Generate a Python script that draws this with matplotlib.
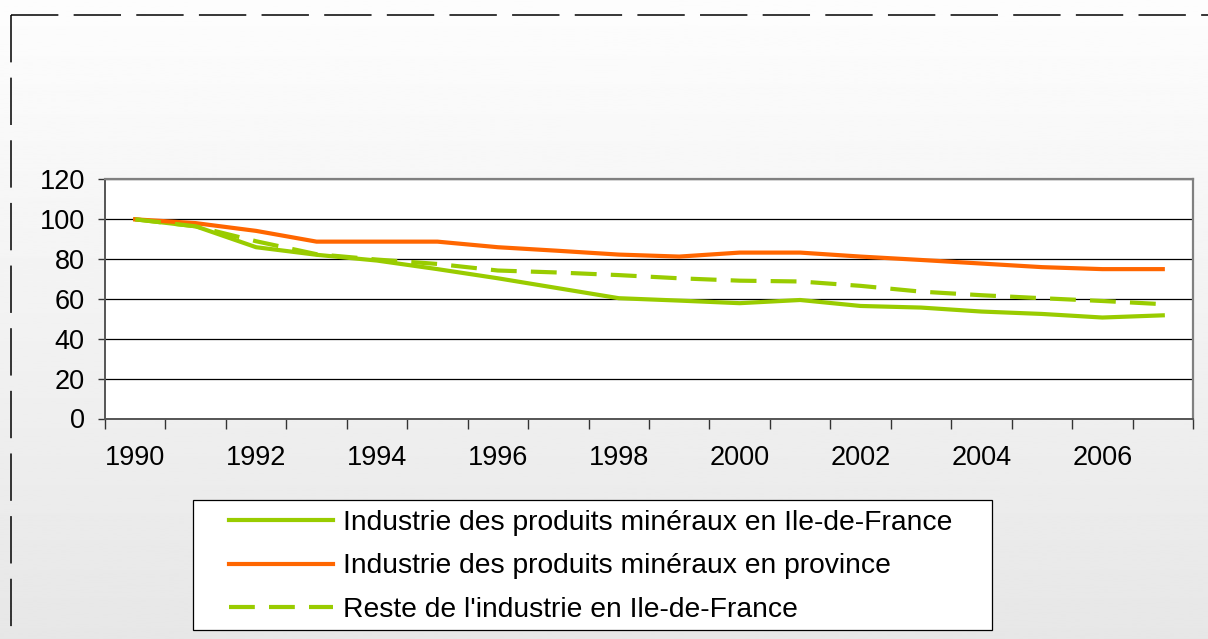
import matplotlib
matplotlib.use("Agg")
import matplotlib.pyplot as plt
import numpy as np
from matplotlib.lines import Line2D
from matplotlib.patches import Rectangle

plt.rcParams["font.family"] = ["Liberation Sans", "DejaVu Sans"]

years = list(range(1990, 2008))
mineral_idf = [100, 96.5, 86, 82.2, 79.3, 75, 70.4, 65.4, 60.4, 59.2, 57.9, 59.5,
               56.5, 55.7, 53.7, 52.5, 50.7, 51.8]
mineral_prov = [100, 98.1, 94.2, 88.8, 88.8, 88.8, 86, 84.2, 82.3, 81.3, 83.3, 83.3,
                81.3, 79.6, 77.8, 76, 75, 75]
reste_idf = [100, 96.5, 89, 82.5, 79.8, 77.6, 74.3, 73.3, 72, 70.4, 69.2, 68.8,
             66.6, 63.7, 61.9, 60.4, 59, 57.4]
labels = [
    "Industrie des produits minéraux en Ile-de-France",
    "Industrie des produits minéraux en province",
    "Reste de l'industrie en Ile-de-France",
]

GREEN = "#99cc00"
ORANGE = "#ff6600"

W, H = 1208, 639
fig = plt.figure(figsize=(W / 100, H / 100), dpi=100)

# gradient background
bg = fig.add_axes([0, 0, 1, 1], zorder=-10)
grad = np.linspace(0.992, 0.905, 256).reshape(-1, 1)
bg.imshow(grad, aspect="auto", cmap="gray", vmin=0, vmax=1, extent=[0, 1, 0, 1])
bg.set_axis_off()

# dashed outer border (top and left)
bx, by = 11 / W, 1 - 15 / H
fig.add_artist(Line2D([bx, 1], [by, by], transform=fig.transFigure, color="black",
                      lw=1.1, dashes=(31, 10)))
fig.add_artist(Line2D([bx, bx], [by, 0], transform=fig.transFigure, color="black",
                      lw=1.1, dashes=(31, 10)))

ax = fig.add_axes([105 / W, 1 - 418.5 / H, (1193 - 105) / W, (418.5 - 179.5) / H])
ax.set_facecolor("white")

x = np.arange(len(years))
ax.plot(x, mineral_idf, color=GREEN, lw=3, label=labels[0], zorder=3)
ax.plot(x, mineral_prov, color=ORANGE, lw=3, label=labels[1], zorder=3)
ax.plot(x, reste_idf, color=GREEN, lw=3, dashes=(6.2, 3.4), label=labels[2], zorder=3)

ax.set_xlim(-0.5, len(years) - 0.5)
ax.set_ylim(0, 120)
ax.set_yticks(range(0, 121, 20))
ax.yaxis.grid(True, color="black", lw=0.9)
ax.set_axisbelow(True)

ax.set_xticks(np.arange(-0.5, len(years), 1.0))
ax.set_xticklabels([])
ax.set_xticks(x[::2], minor=True)
ax.set_xticklabels([str(y) for y in years[::2]], minor=True)
ax.tick_params(axis="x", which="major", length=7, width=1, color="#333333", direction="out")
ax.tick_params(axis="x", which="minor", length=0, pad=19, labelsize=19.5)
ax.tick_params(axis="y", length=5, width=1, color="#333333", pad=9.5, labelsize=19.5)

for side in ["top", "right"]:
    ax.spines[side].set_color("#808080")
    ax.spines[side].set_linewidth(1.6)
for side in ["left", "bottom"]:
    ax.spines[side].set_color("#555555")
    ax.spines[side].set_linewidth(1.4)

# legend box
fig.add_artist(Rectangle((193 / W, 1 - 630 / H), (992 - 193) / W, (630 - 500) / H,
                         transform=fig.transFigure, facecolor="white",
                         edgecolor="black", lw=0.9, zorder=5))
handles, labs = ax.get_legend_handles_labels()
leg = fig.legend(handles, labs, loc="upper left", bbox_to_anchor=(229 / W, 1 - 510 / H),
                 frameon=False, fontsize=20.3, handlelength=3.7, handletextpad=0.33,
                 labelspacing=0.62, borderpad=0, borderaxespad=0)
leg.set_zorder(6)

fig.savefig("out.png", dpi=100)
